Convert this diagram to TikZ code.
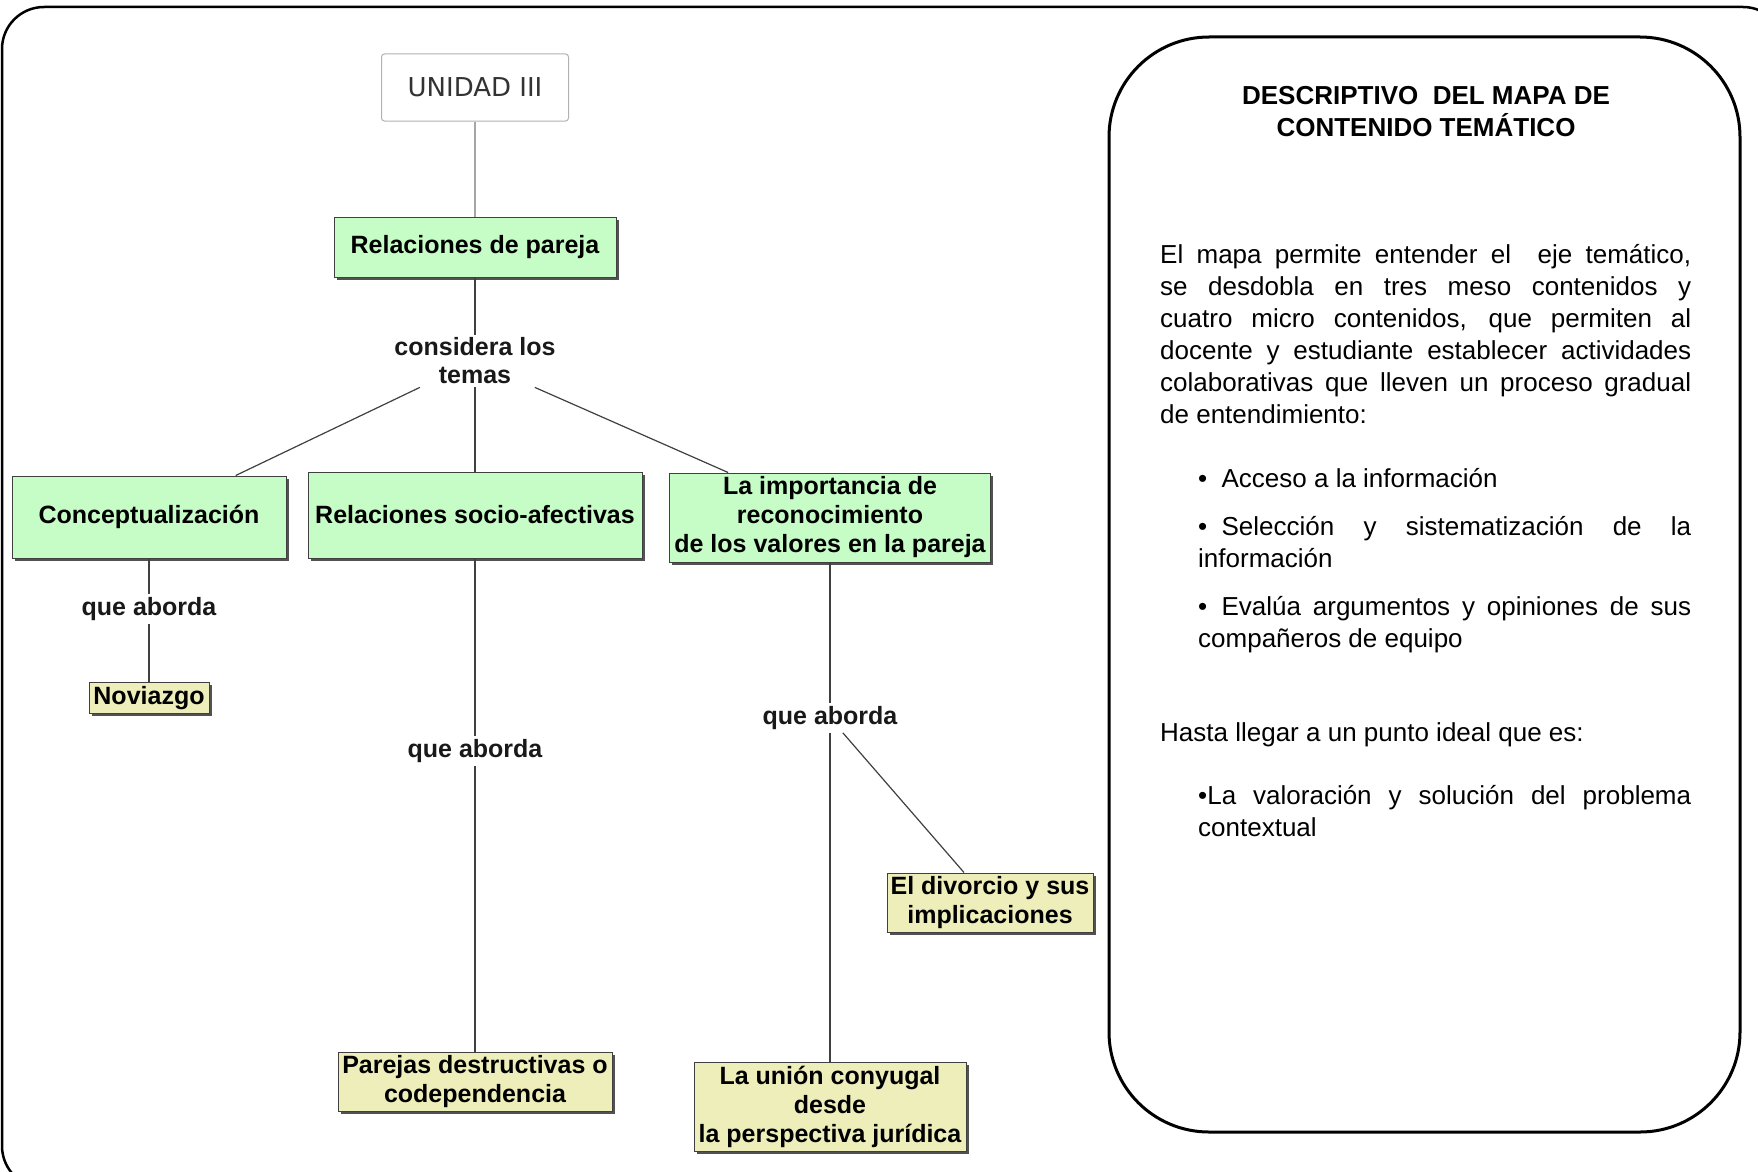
\documentclass[tikz,border=0pt]{standalone}
\usepackage{fontspec}
\setmainfont{Liberation Sans}
\newfontfamily\unifont{DejaVu Sans}
\usetikzlibrary{shadows}
\definecolor{boxgreen}{RGB}{198,252,198}
\definecolor{boxyellow}{RGB}{238,238,186}
\tolerance=10000
\newcommand{\bul}{•\kern0.55em}
\tikzset{
  concept/.style={draw=black!75, line width=1pt, inner sep=0pt, align=center,
    font=\bfseries\fontsize{25}{29}\selectfont,
    drop shadow={shadow xshift=2.5pt, shadow yshift=-2.5pt, fill=black!75, opacity=0.9}},
  meso/.style={concept, fill=boxgreen},
  micro/.style={concept, fill=boxyellow},
  linklabel/.style={inner sep=3pt, align=center, font=\bfseries\fontsize{25}{28}\selectfont, text=black!90},
  conn/.style={draw=black!75, line width=1.2pt},
  body/.style={inner sep=0pt, anchor=base west, align=justify, font=\fontsize{26}{32}\selectfont},
  titletext/.style={inner sep=0pt, anchor=base, font=\bfseries\fontsize{26}{32}\selectfont},
  frame/.style={draw=black, line width=2.5pt},
}
\begin{document}
\begin{tikzpicture}[x=1pt, y=-1pt]
\useasboundingbox (0,0) rectangle (1758,1172);
\fill[white] (0,0) rectangle (1758,1172);
\clip (0,0) rectangle (1758,1172);
% outer frame (extends beyond the right and bottom edges)
\draw[frame, rounded corners=42pt] (2,7) rectangle (1785,1188);
% inner description panel
\draw[frame, line width=3pt, rounded corners=100pt] (1109,37) rectangle (1740,1132);

% concept map nodes
\node[draw=black!30, line width=1pt, rounded corners=3pt, fill=white, minimum width=187pt, minimum height=67pt, inner sep=0pt,
      font=\unifont\fontsize{26}{30}\selectfont, text=black!80] (U) at (475,87.5) {UNIDAD III};
\node[meso, minimum width=282pt, minimum height=60pt] (RP) at (475,247) {Relaciones de pareja};
\node[linklabel] (L1) at (475,361) {considera los\\temas};
\node[meso, minimum width=274pt, minimum height=82pt] (C) at (149,517) {Conceptualización};
\node[meso, minimum width=334pt, minimum height=86pt] (RS) at (475,515) {Relaciones socio-afectivas};
\node[meso, minimum width=321pt, minimum height=89pt] (LI) at (830,517.5) {La importancia de\\reconocimiento\\de los valores en la pareja};
\node[linklabel] (L2) at (149,609) {que aborda};
\node[micro, minimum width=120pt, minimum height=31pt] (N) at (149,698) {Noviazgo};
\node[linklabel] (L3) at (475,751) {que aborda};
\node[micro, minimum width=274pt, minimum height=59pt] (PD) at (475,1081.5) {Parejas destructivas o\\codependencia};
\node[linklabel] (L4) at (830,718) {que aborda};
\node[micro, minimum width=206pt, minimum height=59pt] (ED) at (990,902.5) {El divorcio y sus\\implicaciones};
\node[micro, minimum width=272pt, minimum height=89pt] (LU) at (830,1107) {La unión conyugal\\desde\\la perspectiva jurídica};

% connectors
\draw[conn, draw=black!35] (U) -- (RP);
\draw[conn] (RP) -- (L1);
\draw[conn] (L1) -- (C);
\draw[conn] (L1) -- (RS);
\draw[conn] (L1) -- (LI);
\draw[conn] (C) -- (L2);
\draw[conn] (L2) -- (N);
\draw[conn] (RS) -- (L3);
\draw[conn] (L3) -- (PD);
\draw[conn] (LI) -- (L4);
\draw[conn] (L4) -- (LU);
\draw[conn] (L4) -- (ED);

% description panel text
\node[titletext] (T1) at (1426,104) {DESCRIPTIVO~ DEL MAPA DE};
\node[titletext] (T2) at (1426,136) {CONTENIDO TEMÁTICO};
\node[body, text width=531pt] (P1) at (1160,263) {El mapa permite entender el~ eje temático,\linebreak se desdobla en tres meso contenidos y\linebreak cuatro micro contenidos, que permiten al\linebreak docente y estudiante establecer actividades\linebreak colaborativas que lleven un proceso gradual\linebreak de entendimiento:};
\node[body, text width=493pt] (B1) at (1198,487) {\bul Acceso a la información};
\node[body, text width=493pt] (B2) at (1198,535) {\bul Selección y sistematización de la\linebreak información};
\node[body, text width=493pt] (B3) at (1198,615) {\bul Evalúa argumentos y opiniones de sus\linebreak compañeros de equipo};
\node[body, text width=531pt] (H) at (1160,741) {Hasta llegar a un punto ideal que es:};
\node[body, text width=493pt] (B4) at (1198,804) {•La valoración y solución del problema\linebreak contextual};
\end{tikzpicture}
\end{document}
